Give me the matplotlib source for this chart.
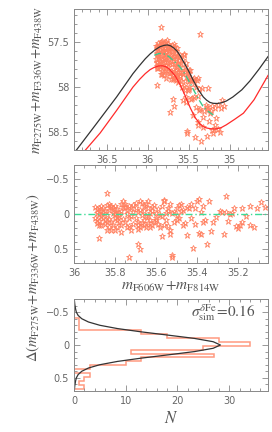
import matplotlib
matplotlib.use('Agg')
import matplotlib.pyplot as plt
import numpy as np
from matplotlib.ticker import MultipleLocator, FuncFormatter

plt.rcParams['font.family'] = ['DejaVu Sans']
plt.rcParams['mathtext.fontset'] = 'stix'

# isochrones (upper panel)
black_x = [36.92, 36.87, 36.62, 36.38, 36.18, 36.10, 36.03, 35.97, 35.91, 35.85, 35.80, 35.76,
           35.72, 35.68, 35.64, 35.60, 35.56, 35.50, 35.44, 35.38, 35.32, 35.28, 35.24, 35.20,
           35.15, 35.10, 35.04, 34.96, 34.85, 34.75, 34.64, 34.53]
black_y = [58.75, 58.70, 58.40, 58.11, 57.85, 57.76, 57.685, 57.63, 57.585, 57.55, 57.535, 57.53,
           57.54, 57.565, 57.60, 57.655, 57.72, 57.82, 57.93, 58.03, 58.11, 58.145, 58.17, 58.18,
           58.182, 58.175, 58.155, 58.11, 58.03, 57.93, 57.80, 57.66]
red_x = [36.80, 36.76, 36.58, 36.38, 36.18, 36.10, 36.03, 35.97, 35.92, 35.87, 35.82, 35.78,
         35.74, 35.70, 35.66, 35.60, 35.54, 35.48, 35.42, 35.36, 35.32, 35.28, 35.22, 35.16,
         35.10, 35.04, 34.94, 34.83, 34.70, 34.53]
red_y = [58.75, 58.70, 58.51, 58.26, 58.00, 57.915, 57.85, 57.805, 57.78, 57.765, 57.762, 57.772,
         57.795, 57.835, 57.88, 57.98, 58.10, 58.23, 58.34, 58.41, 58.44, 58.455, 58.465, 58.465,
         58.45, 58.42, 58.36, 58.29, 58.14, 57.87]
fid_x = [35.92, 35.86, 35.80, 35.74, 35.68, 35.61, 35.54, 35.48, 35.44, 35.38, 35.32, 35.26, 35.20]
fid_y = [57.645, 57.625, 57.63, 57.66, 57.71, 57.77, 57.86, 57.96, 58.03, 58.13, 58.22, 58.27, 58.31]

# stars: colour and residual from the fiducial
star_x = [35.90, 35.89, 35.88, 35.87, 35.89, 35.88, 35.87, 35.90, 35.89, 35.88, 35.87, 35.88, 35.86, 35.86,
          35.84, 35.84, 35.83, 35.82, 35.82, 35.85, 35.84, 35.83, 35.84, 35.81, 35.82,
          35.80, 35.80, 35.79, 35.80, 35.78, 35.79, 35.80, 35.78, 35.77, 35.76, 35.77, 35.77,
          35.76, 35.75, 35.74, 35.73, 35.73, 35.73, 35.72, 35.71, 35.74, 35.72,
          35.71, 35.70, 35.69, 35.69, 35.69, 35.69, 35.68, 35.68, 35.67, 35.66, 35.66, 35.65, 35.65, 35.66, 35.68,
          35.64, 35.64, 35.63, 35.62, 35.62, 35.61, 35.60, 35.60, 35.59, 35.58, 35.64, 35.63,
          35.57, 35.56, 35.56, 35.55, 35.54, 35.54, 35.53, 35.53, 35.52, 35.52, 35.52, 35.57,
          35.51, 35.50, 35.50, 35.49, 35.49, 35.48, 35.47, 35.46, 35.45,
          35.44, 35.43, 35.42, 35.41, 35.40, 35.39, 35.39, 35.38, 35.38, 35.37, 35.36, 35.35,
          35.34, 35.33, 35.32, 35.29, 35.28, 35.27, 35.26, 35.26, 35.25, 35.24, 35.23,
          35.21, 35.20, 35.19, 35.18, 35.18, 35.14, 35.14, 35.12, 35.11, 35.09, 35.07,
          35.89, 35.88, 35.87, 35.86, 35.85, 35.85, 35.84, 35.83, 35.83, 35.82, 35.81, 35.81,
          35.80, 35.79, 35.79, 35.78, 35.77, 35.76, 35.75, 35.75, 35.74, 35.73, 35.72, 35.71,
          35.70, 35.70, 35.69, 35.68, 35.67, 35.67, 35.66, 35.65, 35.64, 35.63, 35.62, 35.61,
          35.60, 35.59, 35.58, 35.57, 35.56, 35.55, 35.54, 35.53, 35.51, 35.50, 35.48, 35.47,
          35.45, 35.43, 35.41, 35.37, 35.31, 35.22, 35.16, 35.36]
star_d = [-0.10, -0.07, -0.09, -0.05, -0.02, 0.00, 0.03, 0.05, 0.13, 0.15, 0.16, 0.34, -0.01, -0.09,
          -0.30, -0.13, -0.14, -0.12, -0.10, 0.08, 0.11, 0.19, 0.23, -0.08, 0.23,
          -0.03, 0.00, 0.04, 0.06, 0.11, 0.19, 0.23, -0.02, -0.15, -0.10, 0.16, 0.25,
          -0.18, -0.10, -0.06, 0.06, 0.17, 0.61, 0.23, -0.03, 0.00, -0.08,
          -0.13, -0.08, -0.03, 0.11, 0.16, 0.43, 0.50, -0.19, -0.16, -0.11, 0.09, -0.14, 0.03, 0.16, 0.19,
          -0.18, 0.13, 0.19, -0.10, -0.05, 0.11, -0.01, 0.05, 0.14, 0.19, 0.03, 0.08,
          0.32, -0.20, -0.19, 0.09, -0.08, -0.05, 0.23, 0.29, 0.59, 0.62, -0.01, 0.03,
          -0.03, -0.08, 0.09, 0.05, -0.13, -0.15, -0.06, 0.13, 0.30,
          -0.08, -0.15, 0.49, -0.08, -0.18, -0.22, 0.27, 0.29, -0.03, 0.11, 0.08, 0.43,
          -0.18, 0.24, 0.11, -0.05, -0.03, 0.28, -0.26, -0.03, 0.10, 0.00, -0.02,
          0.17, 0.20, 0.16, -0.08, 0.11, -0.11, 0.16, 0.19, -0.08, -0.17, -0.10,
          0.08, 0.10, -0.12, 0.05, -0.04, 0.14, 0.02, -0.06, 0.07, 0.12, -0.02, 0.15,
          -0.12, -0.07, 0.09, 0.03, -0.04, 0.07, 0.12, -0.14, 0.18, -0.11, 0.03, 0.14,
          -0.16, 0.05, 0.21, -0.06, 0.01, 0.13, -0.04, 0.18, -0.09, -0.02, 0.16, -0.13,
          0.09, -0.07, 0.02, -0.12, 0.15, -0.02, 0.17, -0.15, 0.12, 0.01, -0.04, 0.16,
          -0.10, 0.06, 0.14, -0.12, 0.04, -0.09, 0.03, -0.75]

# histogram of residuals
hist_edges = [-0.53, -0.47, -0.41, -0.35, -0.29, -0.23, -0.17, -0.11, -0.05, 0.01, 0.07, 0.13,
              0.19, 0.25, 0.31, 0.37, 0.43, 0.49, 0.55, 0.61, 0.67]
hist_counts = [0, 0, 1, 1, 1, 13, 18, 28, 34, 25, 11, 27, 13, 10, 3, 0, 3, 2, 1, 2]

# gaussian of the simulated spread (sigma = 0.16)
gauss_d = [-0.70, -0.62, -0.55, -0.50, -0.45, -0.40, -0.35, -0.30, -0.25, -0.20, -0.15, -0.10,
           -0.05, 0.00, 0.05, 0.10, 0.15, 0.20, 0.25, 0.30, 0.35, 0.40, 0.45, 0.50, 0.55, 0.62, 0.70]
gauss_n = [0.05, 0.15, 0.3, 0.45, 0.8, 1.5, 2.8, 5.0, 8.4, 13.0, 18.2, 23.3,
           26.9, 28.3, 26.9, 23.3, 18.2, 13.0, 8.4, 5.0, 2.8, 1.5, 0.8, 0.45, 0.3, 0.15, 0.05]

grey = '#666666'
star_col = '#ff8060'
fmt = FuncFormatter(lambda v, p: f'{v:g}'.replace('-', '\u2212'))


def style(ax, xmaj, xmin, ymaj, ymin):
    ax.xaxis.set_major_locator(MultipleLocator(xmaj))
    ax.xaxis.set_minor_locator(MultipleLocator(xmin))
    ax.yaxis.set_major_locator(MultipleLocator(ymaj))
    ax.yaxis.set_minor_locator(MultipleLocator(ymin))
    ax.xaxis.set_major_formatter(fmt)
    ax.yaxis.set_major_formatter(fmt)
    ax.tick_params(which='both', direction='in', top=True, right=True, colors='#888888',
                   labelcolor=grey, labelsize=7, width=0.6)
    ax.tick_params(which='major', length=4.5, pad=3.5)
    ax.tick_params(which='minor', length=2.2)
    for s in ax.spines.values():
        s.set_color('#888888')
        s.set_linewidth(0.7)


fig = plt.figure(figsize=(2.72, 4.32), dpi=100)
L, W = 74 / 272, 194 / 272
ax1 = fig.add_axes([L, (432 - 150) / 432, W, 141 / 432])
ax2 = fig.add_axes([L, (432 - 263) / 432, W, 98 / 432])
ax3 = fig.add_axes([L, (432 - 391) / 432, W, 92 / 432])

sx = np.array(star_x)
sd = np.array(star_d)
top_y = np.interp(sx, fid_x[::-1], fid_y[::-1]) + sd

# top
ax1.plot(sx, top_y, ls='none', marker='*', ms=5, mfc='none', mec=star_col, mew=0.6)
ax1.plot(black_x, black_y, color='#333333', lw=0.9)
ax1.plot(red_x, red_y, color='#ff2a2a', lw=0.9)
ax1.plot(fid_x, fid_y, color='#3cc88c', lw=1.0, ls=(0, (5, 2, 1, 2)))
ax1.set_xlim(36.9, 34.53)
ax1.set_ylim(58.7, 57.13)
style(ax1, 0.5, 0.1, 0.5, 0.1)
ax1.set_ylabel(r'$m_{\rm F275W}\!+\!m_{\rm F336W}\!+\!m_{\rm F438W}$', fontsize=10.5,
               color='#555555', labelpad=2)

# middle
ax2.plot(sx, sd, ls='none', marker='*', ms=5, mfc='none', mec=star_col, mew=0.6)
ax2.axhline(0, color='#3ddc97', lw=1.0, ls=(0, (5, 2, 1, 2)))
ax2.set_xlim(36.0, 35.054)
ax2.set_ylim(0.7, -0.7)
style(ax2, 0.2, 0.05, 0.5, 0.1)
ax2.set_xlabel(r'$m_{\rm F606W}\!+\!m_{\rm F814W}$', fontsize=11, color='#555555', labelpad=1)

# bottom
ax3.stairs(hist_counts, hist_edges, orientation='horizontal', color='#ff9a80', lw=1.1)
ax3.plot(gauss_n, gauss_d, color='#333333', lw=0.9)
ax3.set_xlim(0, 37.5)
ax3.set_ylim(0.7, -0.7)
style(ax3, 10, 2, 0.5, 0.1)
ax3.set_xlabel(r'$N$', fontsize=12, color='#555555', labelpad=2)
ax3.text(0.935, 0.85, r'$\sigma^{\delta{\rm Fe}}_{\rm sim}\!=\!0.16$', transform=ax3.transAxes,
         ha='right', va='center', fontsize=11, color='#555555')

fig.text(33 / 272, 1 - 278 / 432,
         r'$\Delta(m_{\rm F275W}\!+\!m_{\rm F336W}\!+\!m_{\rm F438W})$',
         rotation=90, ha='center', va='center', fontsize=10.5, color='#555555')

fig.savefig('out.png', dpi=100)
